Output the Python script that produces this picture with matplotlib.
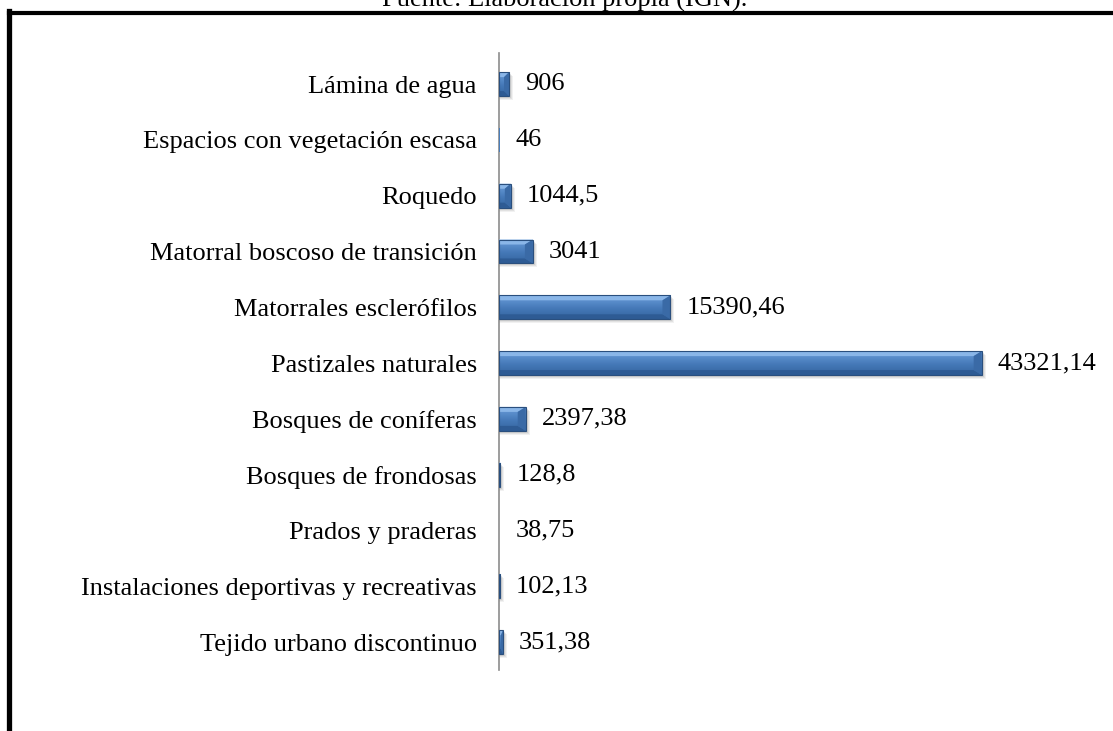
import numpy as np
import matplotlib.pyplot as plt
from matplotlib.patches import Rectangle, Polygon
from matplotlib.lines import Line2D
from matplotlib.colors import LinearSegmentedColormap

plt.rcParams['font.family'] = ['Liberation Serif', 'DejaVu Serif']

categories = ['Tejido urbano discontinuo',
              'Instalaciones deportivas y recreativas',
              'Prados y praderas',
              'Bosques de frondosas',
              'Bosques de coníferas',
              'Pastizales naturales',
              'Matorrales esclerófilos',
              'Matorral boscoso de transición',
              'Roquedo',
              'Espacios con vegetación escasa',
              'Lámina de agua']
areas = [351.38, 102.13, 38.75, 128.8, 2397.38, 43321.14, 15390.46,
         3041, 1044.5, 46, 906]
source_note = 'Fuente: Elaboración propia (IGN).'

W, H = 1113, 731
fig = plt.figure(figsize=(W / 100, H / 100), dpi=100)
fig.patch.set_facecolor('white')

# axes box in pixels: left edge = axis line
ax_l, ax_r, ax_t, ax_b = 499, 1027, 53, 670
ax = fig.add_axes([ax_l / W, 1 - ax_b / H, (ax_r - ax_l) / W, (ax_b - ax_t) / H])
xmax = 47390
step = 55.8  # pixels between categories
ax.set_xlim(0, xmax)
ax.set_ylim(-0.5, -0.5 + (ax_b - ax_t) / step)

px_x = xmax / (ax_r - ax_l)   # data units per pixel, x
px_y = 1 / step               # data units per pixel, y

y = np.arange(len(categories))
bar_h = 0.43
bars = ax.barh(y, areas, height=bar_h, color='#4a7ebb', edgecolor='none', zorder=3)

grad = np.linspace(0, 1, 100).reshape(-1, 1)
cmap = LinearSegmentedColormap.from_list(
    'bevel', [(0, '#34649f'), (0.45, '#4579b8'), (0.75, '#5a8dcb'), (1, '#6d9fdb')])

for b in bars:
    x0, y0, w, h = b.get_x(), b.get_y(), b.get_width(), b.get_height()
    x1, y1 = x0 + w, y0 + h
    wpx = w / px_x
    if wpx < 0.8:
        continue
    # soft shadow under the bar
    for k, a in [(4, 0.07), (3, 0.09), (2, 0.12)]:
        ax.add_patch(Rectangle((x0, y0 - k * px_y), w + k * px_x, h,
                               facecolor='#404040', alpha=a, edgecolor='none', zorder=2))
    im = ax.imshow(grad, extent=[x0, x1, y0, y1], origin='lower', cmap=cmap,
                   aspect='auto', interpolation='bilinear', zorder=3.5)
    im.set_clip_path(b)
    bw = min(8 * px_x, w / 2)
    bh = min(5 * px_y, h / 3)
    top = Polygon([(x0, y1), (x1, y1), (x1 - bw, y1 - bh), (x0, y1 - bh)],
                  closed=True, facecolor='#8ab6e8', edgecolor='none', zorder=4)
    bot = Polygon([(x0, y0), (x1, y0), (x1 - bw, y0 + bh), (x0, y0 + bh)],
                  closed=True, facecolor='#2e5b94', edgecolor='none', zorder=4)
    right = Polygon([(x1, y0), (x1, y1), (x1 - bw, y1 - bh), (x1 - bw, y0 + bh)],
                    closed=True, facecolor='#3a6aa6', edgecolor='none', zorder=4)
    for p in (top, bot, right):
        ax.add_patch(p)
    ax.add_patch(Rectangle((x0, y0), w, h, facecolor='none',
                           edgecolor='#2a4f7e', linewidth=0.8, zorder=4.5))

for yi, v in zip(y, areas):
    txt = str(v).replace('.', ',')
    ax.text(v + 16 * px_x, yi, txt, va='center', ha='left', fontsize=19, color='black')

ax.set_yticks(y)
ax.set_yticklabels(categories, fontsize=19)
ax.tick_params(axis='y', length=0, pad=16)
ax.set_xticks([])
for s in ['top', 'right', 'bottom']:
    ax.spines[s].set_visible(False)
ax.spines['left'].set_color('#8c8c8c')
ax.spines['left'].set_linewidth(1.2)
ax.set_facecolor('none')

# frame around the figure (left and top only)
fig.add_artist(Line2D([8.5 / W, 8.5 / W], [0, 1 - 11 / H], color='black',
                      linewidth=3.8, transform=fig.transFigure, solid_capstyle='projecting'))
fig.add_artist(Line2D([8.5 / W, 1], [1 - 12.5 / H, 1 - 12.5 / H], color='black',
                      linewidth=3.0, transform=fig.transFigure))

fig.text(565 / W, 1 - 7 / H, source_note, ha='center', va='baseline', fontsize=19)

fig.savefig('out.png', dpi=100)
